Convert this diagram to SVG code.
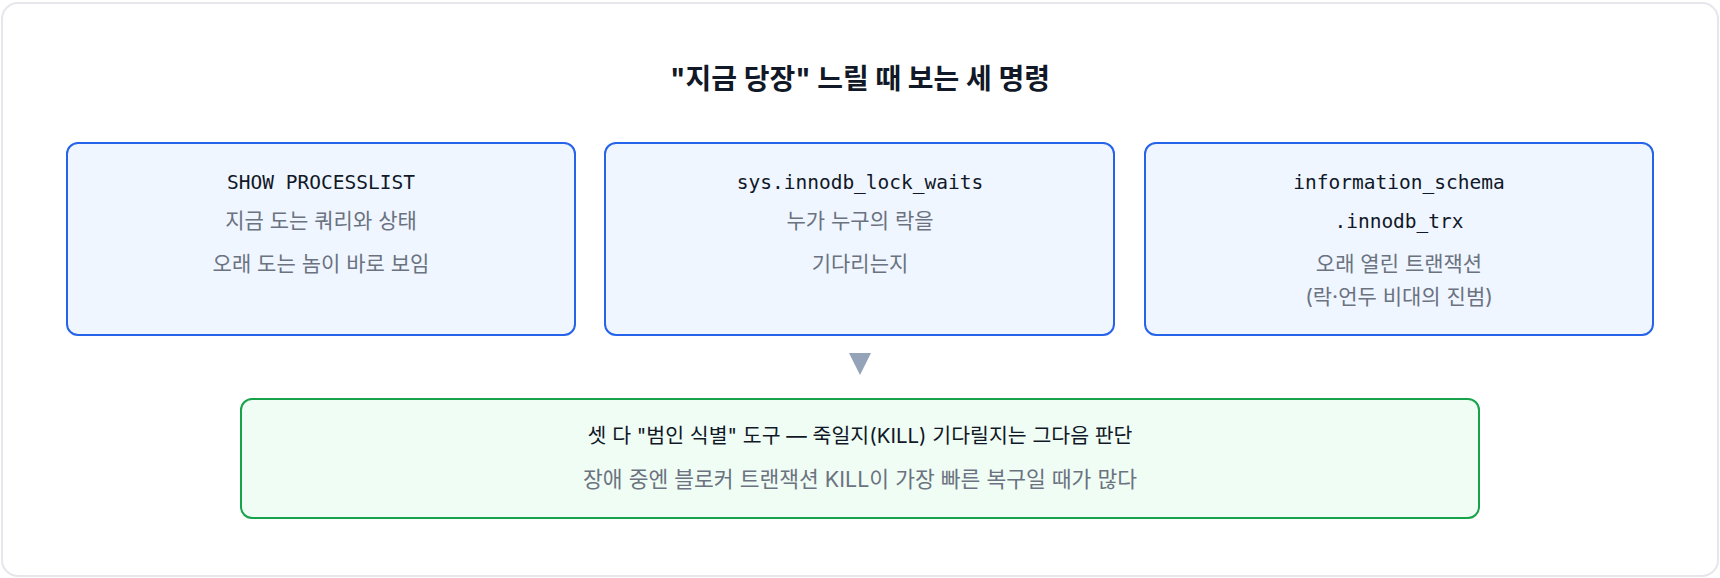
<svg xmlns="http://www.w3.org/2000/svg" width="1720" height="578" viewBox="0 0 1720 578">
<style>
.frame{fill:#ffffff;stroke:#e5e7eb;stroke-width:2}
.box{fill:#eff6ff;stroke:#2563eb;stroke-width:2}
.gbox{fill:#f0fdf4;stroke:#16a34a;stroke-width:2}
.title{font-family:Inter,"Noto Sans CJK KR",sans-serif;font-size:28px;font-weight:700;fill:#111827;text-anchor:middle}
.mono{font-family:"DejaVu Sans Mono","Liberation Mono","Noto Sans CJK KR",monospace;font-size:19.5px;fill:#111827;text-anchor:middle}
.sub{font-family:Inter,"Noto Sans CJK KR",sans-serif;font-size:21px;fill:#6b7280;text-anchor:middle}
.sub2{font-family:Inter,"Noto Sans CJK KR",sans-serif;font-size:21.5px;fill:#6b7280;text-anchor:middle}
.main{font-family:Inter,"Noto Sans CJK KR",sans-serif;font-size:20.5px;fill:#111827;text-anchor:middle}
.arrow{fill:#94a3b8}
</style>
<rect class="frame" x="2" y="3" width="1716" height="573" rx="16"/>
<text class="title" x="860" y="89">"지금 당장" 느릴 때 보는 세 명령</text>
<g id="node-processlist">
<rect class="box" x="67" y="143" width="508" height="192" rx="11"/>
<text class="mono" x="321" y="189">SHOW PROCESSLIST</text>
<text class="sub" x="321" y="228">지금 도는 쿼리와 상태</text>
<text class="sub" x="321" y="271">오래 도는 놈이 바로 보임</text>
</g>
<g id="node-lockwaits">
<rect class="box" x="605" y="143" width="509" height="192" rx="11"/>
<text class="mono" x="860" y="189">sys.innodb_lock_waits</text>
<text class="sub" x="860" y="228">누가 누구의 락을</text>
<text class="sub" x="860" y="271">기다리는지</text>
</g>
<g id="node-trx">
<rect class="box" x="1145" y="143" width="508" height="192" rx="11"/>
<text class="mono" x="1399" y="189">information_schema</text>
<text class="mono" x="1399" y="228">.innodb_trx</text>
<text class="sub" x="1399" y="271">오래 열린 트랜잭션</text>
<text class="sub" x="1399" y="304">(락·언두 비대의 진범)</text>
</g>
<g id="connectors">
<polygon class="arrow" points="849,353 871,353 860,375"/>
</g>
<g id="node-summary">
<rect class="gbox" x="241" y="399" width="1238" height="119" rx="11"/>
<text class="main" x="860" y="443">셋 다 "범인 식별" 도구 — 죽일지(KILL) 기다릴지는 그다음 판단</text>
<text class="sub2" x="860" y="487">장애 중엔 블로커 트랜잭션 KILL이 가장 빠른 복구일 때가 많다</text>
</g>
</svg>
